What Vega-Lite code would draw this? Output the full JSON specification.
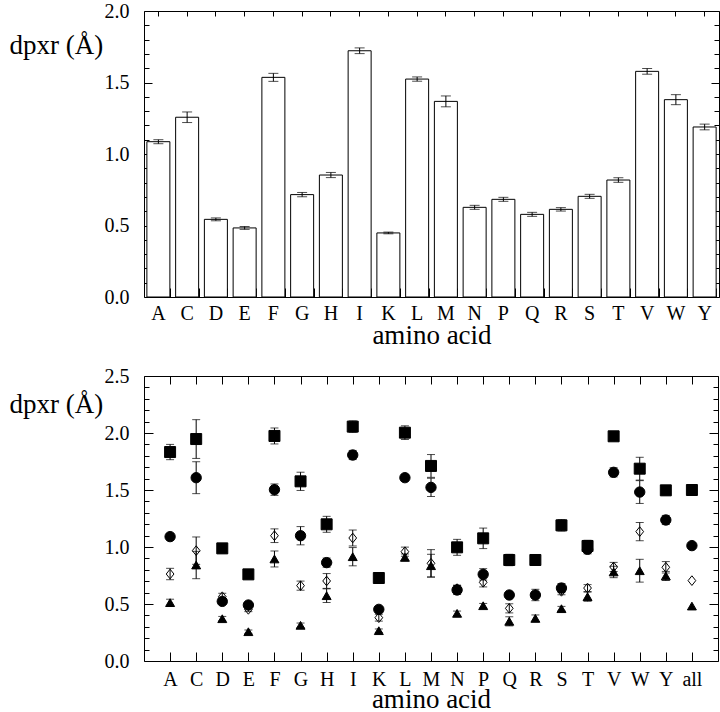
{
  "$schema": "https://vega.github.io/schema/vega-lite/v6.json",
  "padding": {"left": 8, "top": 0, "right": 0, "bottom": 0},
  "spacing": 16,
  "config": {
    "view": {"stroke": "black", "strokeWidth": 1},
    "font": "Liberation Serif, Times New Roman, serif",
    "axis": {"domain": false, "grid": false, "labelFont": "Liberation Serif, Times New Roman, serif", "labelFontSize": 20, "labelColor": "black", "tickColor": "black", "tickWidth": 1, "titleFont": "Liberation Serif, Times New Roman, serif", "titleFontSize": 27, "titleFontWeight": "normal", "titleColor": "black"}
  },
  "vconcat": [
    {
      "width": 575,
      "height": 286,
      "data": {"values": [
        {"aa": "A", "v": 1.086, "e": 0.014},
        {"aa": "C", "v": 1.257, "e": 0.037},
        {"aa": "D", "v": 0.543, "e": 0.010},
        {"aa": "E", "v": 0.483, "e": 0.010},
        {"aa": "F", "v": 1.536, "e": 0.028},
        {"aa": "G", "v": 0.716, "e": 0.015},
        {"aa": "H", "v": 0.853, "e": 0.018},
        {"aa": "I", "v": 1.722, "e": 0.020},
        {"aa": "K", "v": 0.448, "e": 0.006},
        {"aa": "L", "v": 1.524, "e": 0.015},
        {"aa": "M", "v": 1.368, "e": 0.038},
        {"aa": "N", "v": 0.627, "e": 0.014},
        {"aa": "P", "v": 0.683, "e": 0.014},
        {"aa": "Q", "v": 0.578, "e": 0.014},
        {"aa": "R", "v": 0.613, "e": 0.012},
        {"aa": "S", "v": 0.704, "e": 0.014},
        {"aa": "T", "v": 0.818, "e": 0.016},
        {"aa": "V", "v": 1.578, "e": 0.020},
        {"aa": "W", "v": 1.380, "e": 0.035},
        {"aa": "Y", "v": 1.189, "e": 0.020}
      ]},
      "resolve": {"axis": {"x": "independent", "y": "independent"}},
      "layer": [
        {
          "mark": {"type": "bar", "fill": "white", "stroke": "black", "strokeWidth": 1},
          "encoding": {
            "x": {"field": "aa", "type": "nominal", "scale": {"type": "band", "domain": ["A","C","D","E","F","G","H","I","K","L","M","N","P","Q","R","S","T","V","W","Y"], "paddingInner": 0.2, "paddingOuter": 0.1},
              "axis": {"orient": "bottom", "ticks": false, "labelAngle": 0, "labelPadding": 6, "labelBaseline": "top", "title": "amino acid", "titleY": 46, "titleBaseline": "alphabetic"}},
            "y": {"field": "v", "type": "quantitative", "scale": {"domain": [0, 2], "nice": false},
              "axis": {"orient": "left", "ticks": false, "values": [0, 0.5, 1, 1.5, 2], "format": ".1f", "labelPadding": 15, "title": "dpxr (Å)", "titleAngle": 0, "titleAlign": "left", "titleBaseline": "alphabetic", "titleX": -135, "titleY": 42}}
          }
        },
        {
          "mark": {"type": "errorbar", "ticks": true, "size": 10, "thickness": 1, "color": "black"},
          "encoding": {
            "x": {"field": "aa", "type": "nominal", "scale": {"type": "band"}, "axis": null},
            "y": {"field": "v", "type": "quantitative", "axis": null},
            "yError": {"field": "e"}
          }
        },
        {
          "mark": {"type": "point", "opacity": 0},
          "encoding": {
            "x": {"field": "aa", "type": "nominal", "scale": {"type": "band"}, "axis": {"orient": "bottom", "labels": false, "tickSize": -5, "title": null}},
            "y": {"field": "v", "type": "quantitative", "axis": {"orient": "left", "labels": false, "title": null, "values": [0,0.1,0.2,0.3,0.4,0.5,0.6,0.7,0.8,0.9,1,1.1,1.2,1.3,1.4,1.5,1.6,1.7,1.8,1.9,2],
              "tickSize": {"condition": {"test": "abs(datum.value*2 - round(datum.value*2)) < 0.001", "value": -8}, "value": -5}}}
          }
        },
        {
          "mark": {"type": "point", "opacity": 0},
          "encoding": {
            "x": {"field": "aa", "type": "nominal", "scale": {"type": "band"}, "axis": {"orient": "top", "labels": false, "tickSize": -5, "title": null}},
            "y": {"field": "v", "type": "quantitative", "axis": {"orient": "right", "labels": false, "title": null, "values": [0,0.1,0.2,0.3,0.4,0.5,0.6,0.7,0.8,0.9,1,1.1,1.2,1.3,1.4,1.5,1.6,1.7,1.8,1.9,2],
              "tickSize": {"condition": {"test": "abs(datum.value*2 - round(datum.value*2)) < 0.001", "value": -8}, "value": -5}}}
          }
        },
        {
          "mark": {"type": "point", "opacity": 0},
          "encoding": {
            "x": {"field": "aa", "type": "nominal", "scale": {"type": "band"}, "axis": {"orient": "bottom", "labels": false, "tickBand": "extent", "tickSize": -9, "title": null}},
            "y": {"field": "v", "type": "quantitative", "axis": null}
          }
        }
      ]
    },
    {
      "width": 574,
      "height": 285,
      "data": {"values": [
        {"aa": "A", "s": "sq", "v": 1.833, "e": 0.067},
        {"aa": "A", "s": "ci", "v": 1.091, "e": 0.03},
        {"aa": "A", "s": "di", "v": 0.763, "e": 0.05},
        {"aa": "A", "s": "tr", "v": 0.512, "e": 0.03},
        {"aa": "C", "s": "sq", "v": 1.947, "e": 0.17},
        {"aa": "C", "s": "ci", "v": 1.608, "e": 0.14},
        {"aa": "C", "s": "di", "v": 0.968, "e": 0.12},
        {"aa": "C", "s": "tr", "v": 0.842, "e": 0.12},
        {"aa": "D", "s": "sq", "v": 0.988, "e": 0.04},
        {"aa": "D", "s": "ci", "v": 0.523, "e": 0.02},
        {"aa": "D", "s": "di", "v": 0.564, "e": 0.03},
        {"aa": "D", "s": "tr", "v": 0.371, "e": 0.02},
        {"aa": "E", "s": "sq", "v": 0.760, "e": 0.03},
        {"aa": "E", "s": "ci", "v": 0.491, "e": 0.02},
        {"aa": "E", "s": "di", "v": 0.453, "e": 0.02},
        {"aa": "E", "s": "tr", "v": 0.257, "e": 0.015},
        {"aa": "F", "s": "sq", "v": 1.974, "e": 0.07},
        {"aa": "F", "s": "ci", "v": 1.503, "e": 0.05},
        {"aa": "F", "s": "di", "v": 1.099, "e": 0.06},
        {"aa": "F", "s": "tr", "v": 0.895, "e": 0.07},
        {"aa": "G", "s": "sq", "v": 1.576, "e": 0.08},
        {"aa": "G", "s": "ci", "v": 1.099, "e": 0.08},
        {"aa": "G", "s": "di", "v": 0.661, "e": 0.04},
        {"aa": "G", "s": "tr", "v": 0.313, "e": 0.02},
        {"aa": "H", "s": "sq", "v": 1.199, "e": 0.07},
        {"aa": "H", "s": "ci", "v": 0.863, "e": 0.04},
        {"aa": "H", "s": "di", "v": 0.702, "e": 0.065},
        {"aa": "H", "s": "tr", "v": 0.573, "e": 0.06},
        {"aa": "I", "s": "sq", "v": 2.056, "e": 0.05},
        {"aa": "I", "s": "ci", "v": 1.807, "e": 0.04},
        {"aa": "I", "s": "di", "v": 1.079, "e": 0.07},
        {"aa": "I", "s": "tr", "v": 0.915, "e": 0.08},
        {"aa": "K", "s": "sq", "v": 0.728, "e": 0.01},
        {"aa": "K", "s": "ci", "v": 0.453, "e": 0.02},
        {"aa": "K", "s": "di", "v": 0.380, "e": 0.03},
        {"aa": "K", "s": "tr", "v": 0.266, "e": 0.015},
        {"aa": "L", "s": "sq", "v": 2.003, "e": 0.06},
        {"aa": "L", "s": "ci", "v": 1.608, "e": 0.03},
        {"aa": "L", "s": "di", "v": 0.959, "e": 0.04},
        {"aa": "L", "s": "tr", "v": 0.909, "e": 0.03},
        {"aa": "M", "s": "sq", "v": 1.711, "e": 0.10},
        {"aa": "M", "s": "ci", "v": 1.523, "e": 0.08},
        {"aa": "M", "s": "di", "v": 0.857, "e": 0.12},
        {"aa": "M", "s": "tr", "v": 0.836, "e": 0.10},
        {"aa": "N", "s": "sq", "v": 0.997, "e": 0.07},
        {"aa": "N", "s": "ci", "v": 0.623, "e": 0.04},
        {"aa": "N", "s": "di", "v": 0.635, "e": 0.03},
        {"aa": "N", "s": "tr", "v": 0.418, "e": 0.02},
        {"aa": "P", "s": "sq", "v": 1.076, "e": 0.09},
        {"aa": "P", "s": "ci", "v": 0.760, "e": 0.05},
        {"aa": "P", "s": "di", "v": 0.690, "e": 0.04},
        {"aa": "P", "s": "tr", "v": 0.485, "e": 0.02},
        {"aa": "Q", "s": "sq", "v": 0.886, "e": 0.05},
        {"aa": "Q", "s": "ci", "v": 0.579, "e": 0.02},
        {"aa": "Q", "s": "di", "v": 0.462, "e": 0.04},
        {"aa": "Q", "s": "tr", "v": 0.348, "e": 0.04},
        {"aa": "R", "s": "sq", "v": 0.886, "e": 0.04},
        {"aa": "R", "s": "ci", "v": 0.579, "e": 0.05},
        {"aa": "R", "s": "di", "v": 0.580, "e": 0.03},
        {"aa": "R", "s": "tr", "v": 0.374, "e": 0.03},
        {"aa": "S", "s": "sq", "v": 1.190, "e": 0.05},
        {"aa": "S", "s": "ci", "v": 0.640, "e": 0.04},
        {"aa": "S", "s": "di", "v": 0.611, "e": 0.03},
        {"aa": "S", "s": "tr", "v": 0.459, "e": 0.02},
        {"aa": "T", "s": "sq", "v": 1.009, "e": 0.05},
        {"aa": "T", "s": "ci", "v": 0.980, "e": 0.04},
        {"aa": "T", "s": "di", "v": 0.640, "e": 0.03},
        {"aa": "T", "s": "tr", "v": 0.564, "e": 0.04},
        {"aa": "V", "s": "sq", "v": 1.971, "e": 0.03},
        {"aa": "V", "s": "ci", "v": 1.655, "e": 0.04},
        {"aa": "V", "s": "di", "v": 0.825, "e": 0.04},
        {"aa": "V", "s": "tr", "v": 0.781, "e": 0.05},
        {"aa": "W", "s": "sq", "v": 1.687, "e": 0.10},
        {"aa": "W", "s": "ci", "v": 1.482, "e": 0.10},
        {"aa": "W", "s": "di", "v": 1.135, "e": 0.08},
        {"aa": "W", "s": "tr", "v": 0.792, "e": 0.10},
        {"aa": "Y", "s": "sq", "v": 1.497, "e": 0.04},
        {"aa": "Y", "s": "ci", "v": 1.237, "e": 0.04},
        {"aa": "Y", "s": "di", "v": 0.822, "e": 0.05},
        {"aa": "Y", "s": "tr", "v": 0.746, "e": 0.04},
        {"aa": "all", "s": "sq", "v": 1.500, "e": 0},
        {"aa": "all", "s": "ci", "v": 1.012, "e": 0},
        {"aa": "all", "s": "di", "v": 0.705, "e": 0},
        {"aa": "all", "s": "tr", "v": 0.482, "e": 0}
      ]},
      "resolve": {"axis": {"x": "independent", "y": "independent"}},
      "layer": [
        {
          "transform": [{"filter": "datum.e > 0"}],
          "mark": {"type": "errorbar", "ticks": true, "size": 8, "thickness": 1, "color": "black"},
          "encoding": {
            "x": {"field": "aa", "type": "nominal", "scale": {"type": "point"}, "axis": null},
            "y": {"field": "v", "type": "quantitative", "axis": null},
            "yError": {"field": "e"},
            "detail": {"field": "s"}
          }
        },
        {
          "mark": {"type": "point", "filled": true, "opacity": 1, "stroke": "black", "strokeWidth": 1},
          "encoding": {
            "x": {"field": "aa", "type": "nominal", "scale": {"type": "point", "padding": 1, "domain": ["A","C","D","E","F","G","H","I","K","L","M","N","P","Q","R","S","T","V","W","Y","all"]},
              "axis": {"orient": "bottom", "ticks": false, "labelAngle": 0, "labelPadding": 8, "labelBaseline": "top", "title": "amino acid", "titleY": 46, "titleBaseline": "alphabetic"}},
            "y": {"field": "v", "type": "quantitative", "scale": {"domain": [0, 2.5], "nice": false},
              "axis": {"orient": "left", "ticks": false, "values": [0, 0.5, 1, 1.5, 2, 2.5], "format": ".1f", "labelPadding": 15, "title": "dpxr (Å)", "titleAngle": 0, "titleAlign": "left", "titleBaseline": "alphabetic", "titleX": -135, "titleY": 36}},
            "shape": {"field": "s", "type": "nominal", "scale": {"domain": ["sq","ci","di","tr"], "range": ["square","circle","M0,-1L0.8,0L0,1L-0.8,0Z","triangle-up"]}, "legend": null},
            "fill": {"field": "s", "type": "nominal", "scale": {"domain": ["sq","ci","di","tr"], "range": ["black","black","transparent","black"]}, "legend": null},
            "size": {"field": "s", "type": "nominal", "scale": {"domain": ["sq","ci","di","tr"], "range": [121, 80, 100, 100]}, "legend": null}
          }
        },
        {
          "mark": {"type": "point", "opacity": 0},
          "encoding": {
            "x": {"field": "aa", "type": "nominal", "scale": {"type": "point"}, "axis": {"orient": "bottom", "labels": false, "tickSize": -9, "title": null}},
            "y": {"field": "v", "type": "quantitative", "axis": {"orient": "left", "labels": false, "title": null, "values": [0,0.1,0.2,0.3,0.4,0.5,0.6,0.7,0.8,0.9,1,1.1,1.2,1.3,1.4,1.5,1.6,1.7,1.8,1.9,2,2.1,2.2,2.3,2.4,2.5],
              "tickSize": {"condition": {"test": "abs(datum.value*2 - round(datum.value*2)) < 0.001", "value": -9}, "value": -5}}}
          }
        },
        {
          "mark": {"type": "point", "opacity": 0},
          "encoding": {
            "x": {"field": "aa", "type": "nominal", "scale": {"type": "point"}, "axis": {"orient": "top", "labels": false, "tickSize": -8, "title": null}},
            "y": {"field": "v", "type": "quantitative", "axis": {"orient": "right", "labels": false, "title": null, "values": [0,0.1,0.2,0.3,0.4,0.5,0.6,0.7,0.8,0.9,1,1.1,1.2,1.3,1.4,1.5,1.6,1.7,1.8,1.9,2,2.1,2.2,2.3,2.4,2.5],
              "tickSize": {"condition": {"test": "abs(datum.value*2 - round(datum.value*2)) < 0.001", "value": -9}, "value": -5}}}
          }
        }
      ]
    }
  ]
}
